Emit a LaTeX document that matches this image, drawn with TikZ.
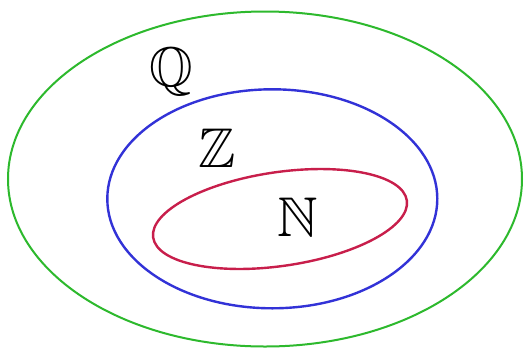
\documentclass[tikz,border=0pt]{standalone}
\usepackage{amssymb}
\definecolor{setgreen}{RGB}{45,185,45}
\definecolor{setblue}{RGB}{50,50,215}
\definecolor{setred}{RGB}{200,30,75}
\tikzset{
  setline/.style={line width=2.4pt},
  setlabel/.style={inner sep=0pt, font=\fontsize{56}{60}\selectfont}
}
\begin{document}
\begin{tikzpicture}[x=1pt,y=-1pt]
\useasboundingbox[fill=white] (0,0) rectangle (528,349);
\draw[setline, line width=2pt, setgreen] (265,179) ellipse [x radius=257pt, y radius=167.5pt];
\draw[setline, setblue] (272.3,198.8) ellipse [x radius=165pt, y radius=109.5pt];
\draw[setline, setred, rotate around={8.3:(280,219)}] (280,219) ellipse [x radius=128.2pt, y radius=46.9pt];
\node[setlabel] (Q) at (171,72) {$\mathbb{Q}$};
\node[setlabel] (Z) at (217,148) {$\mathbb{Z}$};
\node[setlabel] (N) at (298,217) {$\mathbb{N}$};
\end{tikzpicture}
\end{document}
